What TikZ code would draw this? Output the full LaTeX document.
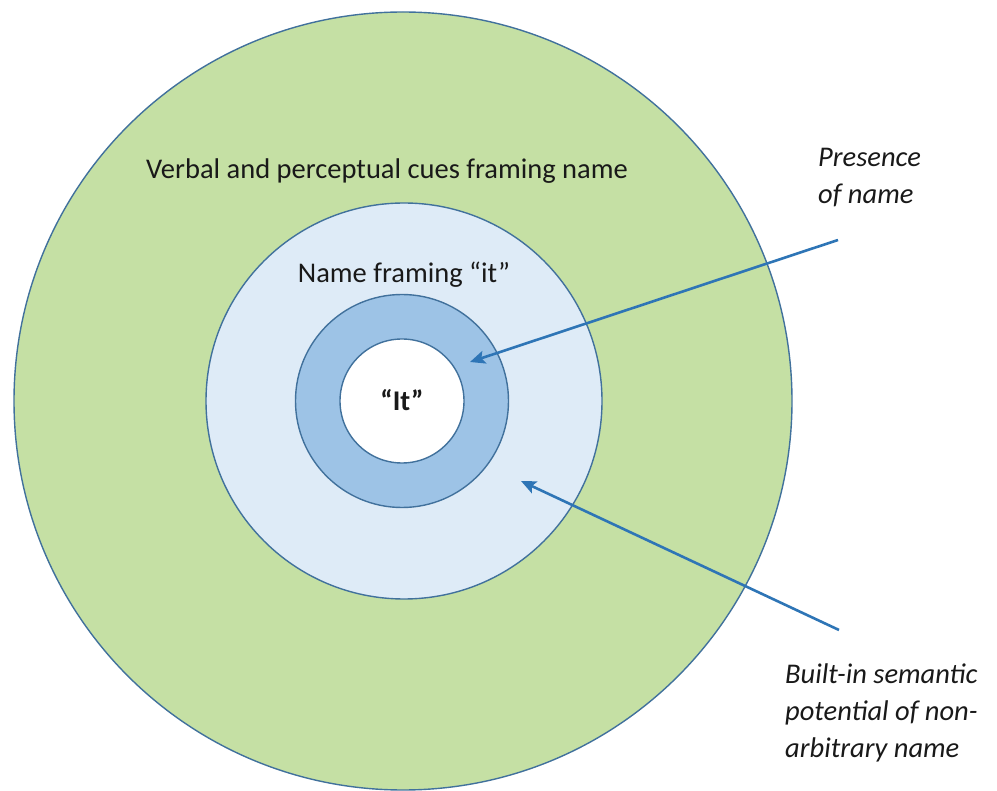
\documentclass[tikz,border=0pt]{standalone}
\usepackage{fontspec}
\setmainfont{Carlito}
\usetikzlibrary{arrows.meta}
\definecolor{ringline}{HTML}{41719C}
\definecolor{outergreen}{HTML}{C5E0A4}
\definecolor{midblue}{HTML}{DEEBF7}
\definecolor{ringblue}{HTML}{9DC3E6}
\definecolor{arrowblue}{HTML}{2E75B6}
\tikzset{
  ring/.style={circle, draw=ringline, line width=1.4pt, inner sep=0pt},
  lbl/.style={inner sep=0pt, font=\fontsize{28.5}{37}\selectfont, text=black!90},
  sidelbl/.style={lbl, align=left, anchor=base west, font=\fontsize{28.5}{37}\selectfont\itshape},
  pointer/.style={draw=arrowblue, line width=2.6pt, -{Stealth[length=15pt,width=13pt,inset=3pt]}}
}
\begin{document}
\begin{tikzpicture}[x=1pt,y=-1pt]
\useasboundingbox (0,0) rectangle (997,791);
\node[ring, fill=outergreen, minimum size=778pt] (outer) at (403,401) {};
\node[ring, fill=midblue, minimum size=396pt] (middle) at (404,401) {};
\node[ring, fill=ringblue, minimum size=213pt] (ringc) at (402,401) {};
\node[ring, fill=white, minimum size=124pt] (core) at (402,401) {};
\node[lbl, anchor=base] (outerlbl) at (387,179) {Verbal and perceptual cues framing name};
\node[lbl, anchor=base] (midlbl) at (404,283) {Name framing “it”};
\node[lbl, anchor=base, font=\fontsize{28.5}{37}\selectfont\bfseries] (corelbl) at (402,411) {“It”};
\node[sidelbl] (presence) at (818,204) {Presence\\of name};
\node[sidelbl] (builtin) at (785,757) {Built-in semantic\\potential of non-\\arbitrary name};
\coordinate (p1) at (838,240);
\coordinate (t1) at (470,362);
\coordinate (p2) at (839,630);
\coordinate (t2) at (521,481);
\draw[pointer] (p1) -- (t1);
\draw[pointer] (p2) -- (t2);
\end{tikzpicture}
\end{document}
